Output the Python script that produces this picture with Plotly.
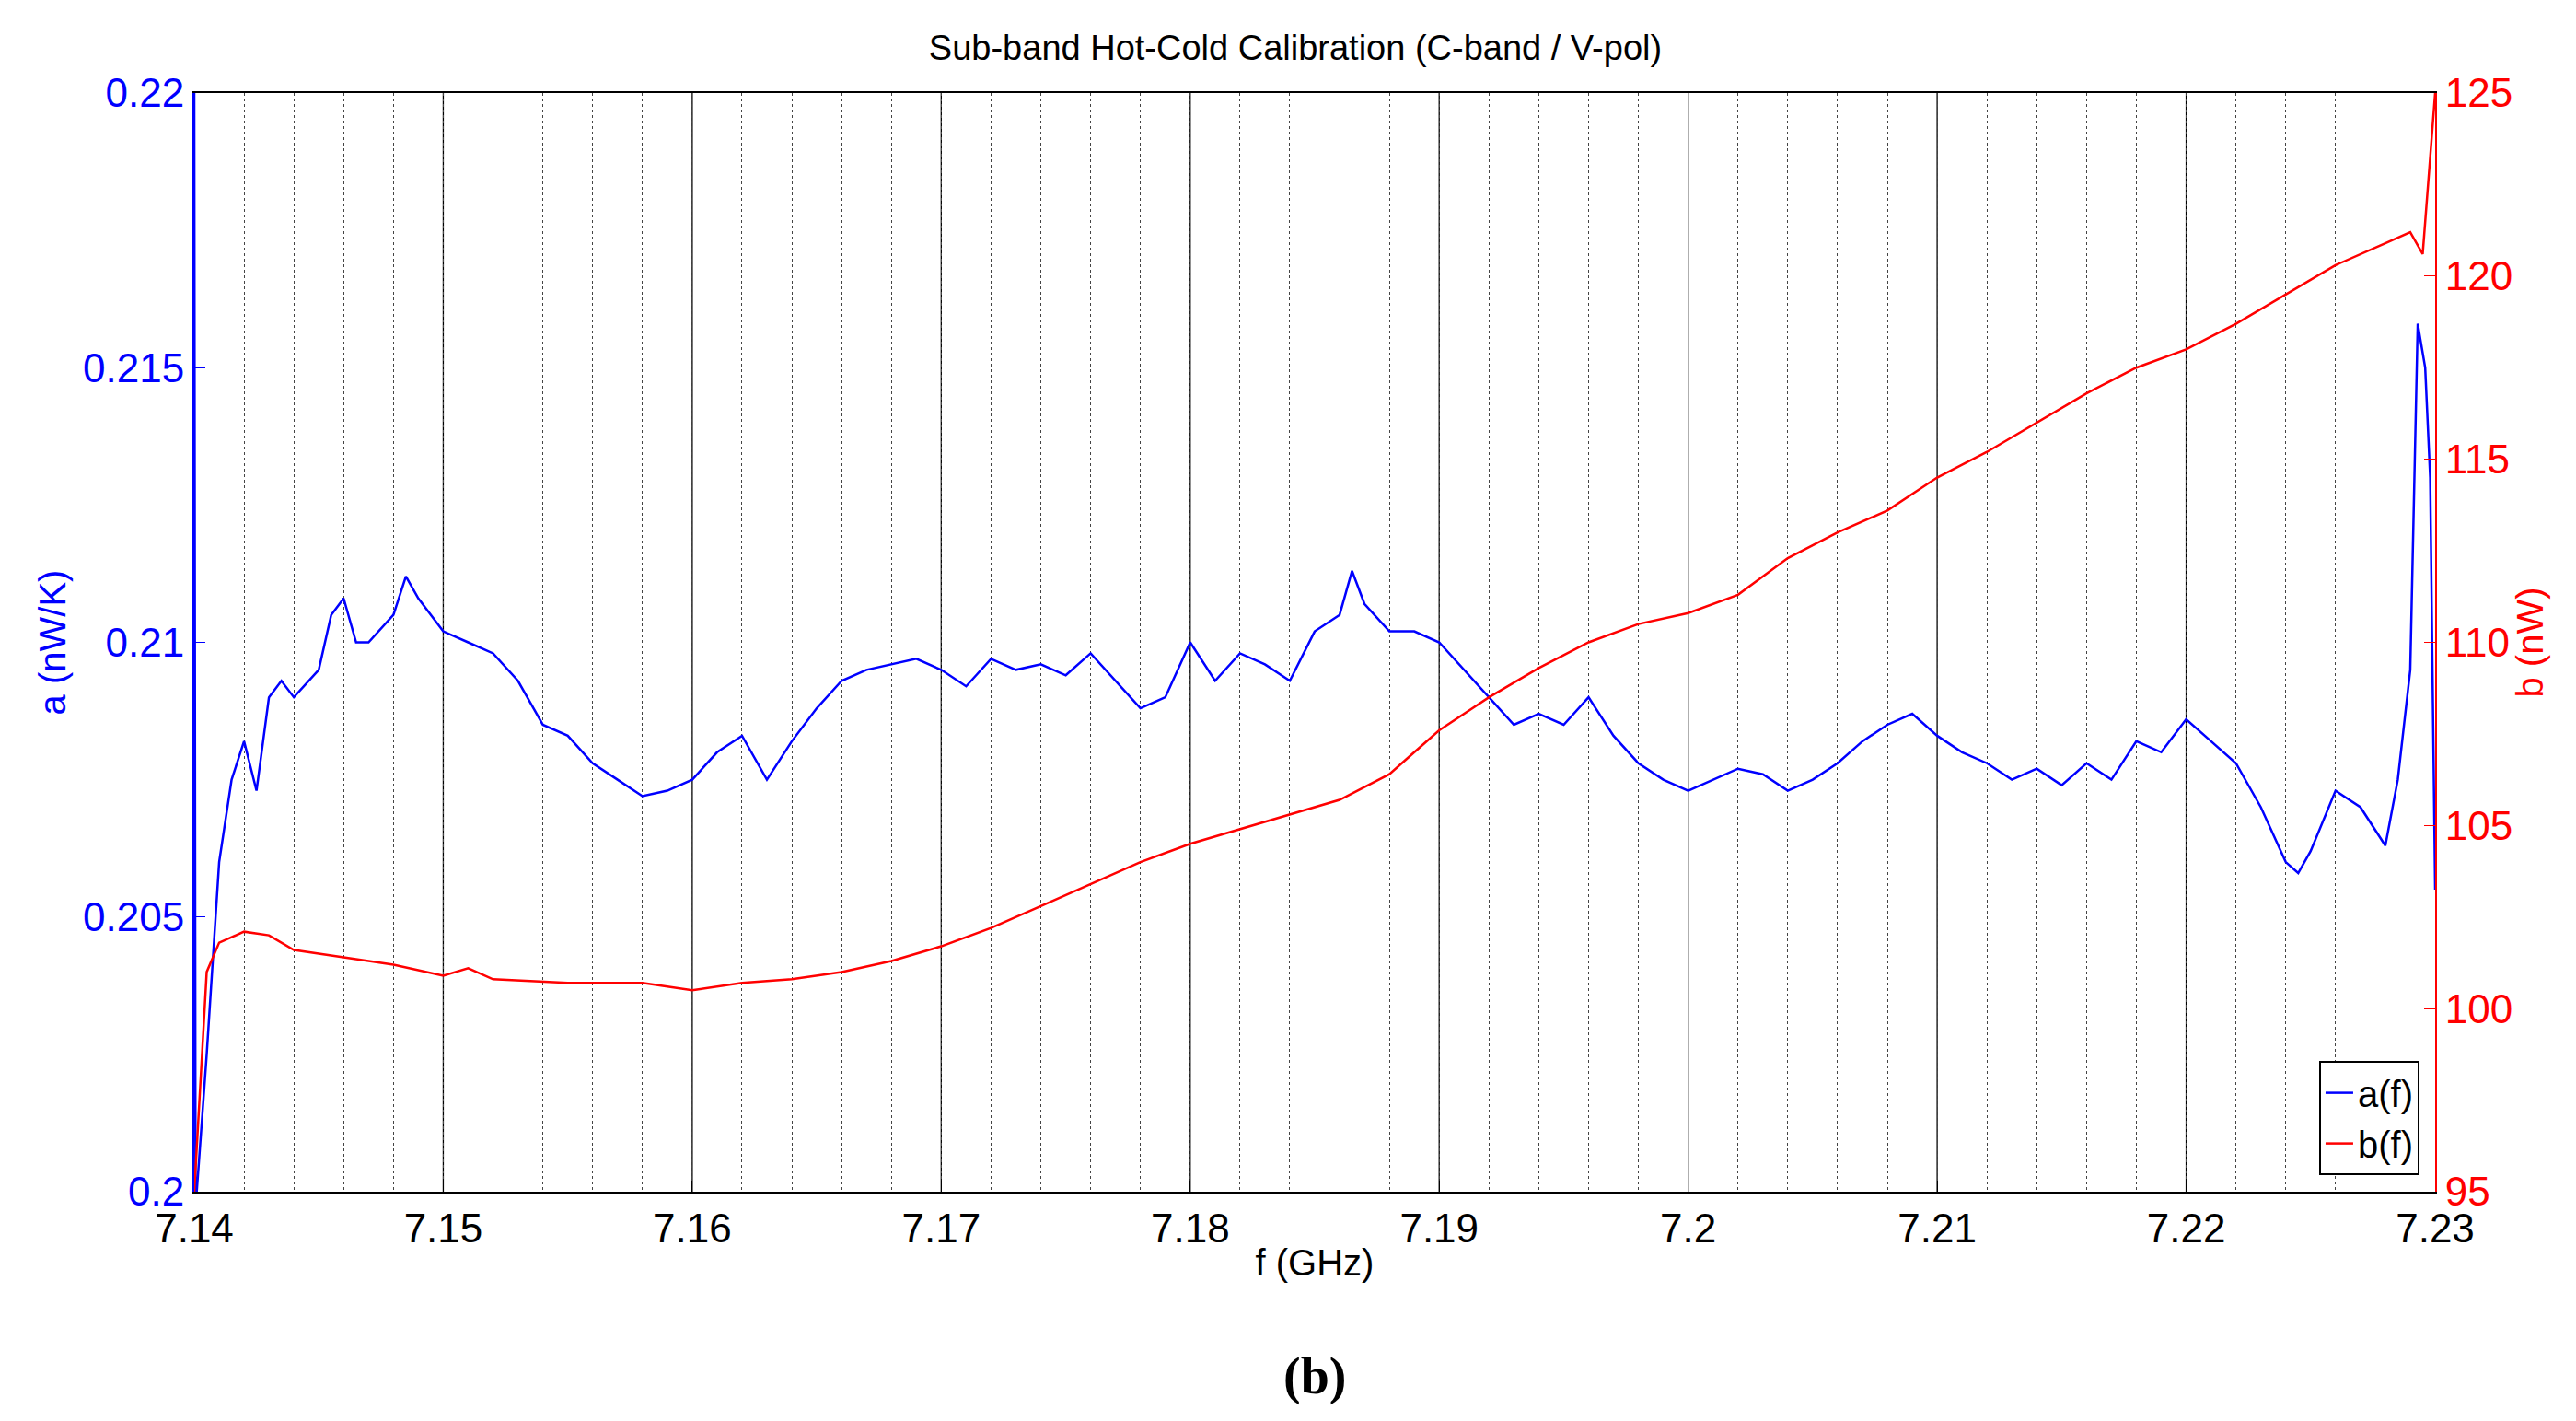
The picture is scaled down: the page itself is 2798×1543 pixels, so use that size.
import plotly.graph_objects as go

# a(f) in nW/K
f_a = [7.1400, 7.14005, 7.1401, 7.1405, 7.141, 7.1415, 7.142, 7.1425, 7.143, 7.1435, 7.144, 7.145,
       7.1455, 7.146, 7.1465, 7.147, 7.148, 7.1485, 7.149, 7.150, 7.151, 7.152, 7.153, 7.154,
       7.155, 7.156, 7.157, 7.158, 7.159, 7.160, 7.161, 7.162, 7.163, 7.164, 7.165, 7.166,
       7.167, 7.168, 7.169, 7.170, 7.171, 7.172, 7.173, 7.174, 7.175, 7.176, 7.177, 7.178,
       7.179, 7.180, 7.181, 7.182, 7.183, 7.184, 7.185, 7.186, 7.1865, 7.187, 7.188, 7.189,
       7.190, 7.191, 7.192, 7.193, 7.194, 7.195, 7.196, 7.197, 7.198, 7.199, 7.200, 7.201,
       7.202, 7.203, 7.204, 7.205, 7.206, 7.207, 7.208, 7.209, 7.210, 7.211, 7.212, 7.213,
       7.214, 7.215, 7.216, 7.217, 7.218, 7.219, 7.220, 7.221, 7.222, 7.223, 7.224, 7.2245,
       7.225, 7.226, 7.227, 7.228, 7.2285, 7.229, 7.2293, 7.2296, 7.2298, 7.2300]
a_vals = [0.2200, 0.2000, 0.2000, 0.2025, 0.2060, 0.2075, 0.2082, 0.2073, 0.2090, 0.2093, 0.2090, 0.2095,
          0.2105, 0.2108, 0.2100, 0.2100, 0.2105, 0.2112, 0.2108, 0.2102, 0.2100, 0.2098, 0.2093, 0.2085,
          0.2083, 0.2078, 0.2075, 0.2072, 0.2073, 0.2075, 0.2080, 0.2083, 0.2075, 0.2082, 0.2088, 0.2093,
          0.2095, 0.2096, 0.2097, 0.2095, 0.2092, 0.2097, 0.2095, 0.2096, 0.2094, 0.2098, 0.2093, 0.2088,
          0.2090, 0.2100, 0.2093, 0.2098, 0.2096, 0.2093, 0.2102, 0.2105, 0.2113, 0.2107, 0.2102, 0.2102,
          0.2100, 0.2095, 0.2090, 0.2085, 0.2087, 0.2085, 0.2090, 0.2083, 0.2078, 0.2075, 0.2073, 0.2075,
          0.2077, 0.2076, 0.2073, 0.2075, 0.2078, 0.2082, 0.2085, 0.2087, 0.2083, 0.2080, 0.2078, 0.2075,
          0.2077, 0.2074, 0.2078, 0.2075, 0.2082, 0.2080, 0.2086, 0.2082, 0.2078, 0.2070, 0.2060, 0.2058,
          0.2062, 0.2073, 0.2070, 0.2063, 0.2075, 0.2095, 0.2158, 0.2150, 0.2130, 0.2055]

# b(f) in nW
f_b = [7.1400, 7.1405, 7.141, 7.142, 7.143, 7.144, 7.146, 7.148, 7.150, 7.151, 7.152, 7.155,
       7.158, 7.160, 7.162, 7.164, 7.166, 7.168, 7.170, 7.172, 7.174, 7.176, 7.178, 7.180,
       7.182, 7.184, 7.186, 7.188, 7.190, 7.192, 7.194, 7.196, 7.198, 7.200, 7.202, 7.204,
       7.206, 7.208, 7.210, 7.212, 7.214, 7.216, 7.218, 7.220, 7.222, 7.224, 7.226, 7.228,
       7.229, 7.2295, 7.2300]
b_vals = [95.0, 101.0, 101.8, 102.1, 102.0, 101.6, 101.4, 101.2, 100.9, 101.1, 100.8, 100.7,
          100.7, 100.5, 100.7, 100.8, 101.0, 101.3, 101.7, 102.2, 102.8, 103.4, 104.0, 104.5,
          104.9, 105.3, 105.7, 106.4, 107.6, 108.5, 109.3, 110.0, 110.5, 110.8, 111.3, 112.3,
          113.0, 113.6, 114.5, 115.2, 116.0, 116.8, 117.5, 118.0, 118.7, 119.5, 120.3, 120.9,
          121.2, 120.6, 125.0]

x_ticks = [7.14, 7.15, 7.16, 7.17, 7.18, 7.19, 7.2, 7.21, 7.22, 7.23]
x_labels = ["7.14", "7.15", "7.16", "7.17", "7.18", "7.19", "7.2", "7.21", "7.22", "7.23"]
a_ticks = [0.2, 0.205, 0.21, 0.215, 0.22]
a_labels = ["0.2", "0.205", "0.21", "0.215", "0.22"]
b_ticks = [95, 100, 105, 110, 115, 120, 125]

FONT = "Liberation Sans"

fig = go.Figure()
fig.add_trace(go.Scatter(x=f_a, y=a_vals, mode="lines", name="a(f)",
                         line=dict(color="#0000ff", width=2.5)))
fig.add_trace(go.Scatter(x=f_b, y=b_vals, mode="lines", name="b(f)", yaxis="y2",
                         line=dict(color="#ff0000", width=2.5)))

# solid major grid lines, dotted minor ones
for xv in x_ticks[1:-1]:
    fig.add_vline(x=xv, line=dict(color="black", width=1.3), layer="below")

fig.update_layout(
    width=2798, height=1543,
    paper_bgcolor="white", plot_bgcolor="white",
    margin=dict(l=203, r=161, t=93, b=257),
    font=dict(family=FONT, size=44, color="black"),
    title=dict(text="Sub-band Hot-Cold Calibration (C-band / V-pol)", x=0.5, xanchor="center",
               y=0.972, yanchor="middle", font=dict(size=38)),
    xaxis=dict(range=[7.14, 7.23], tickvals=x_ticks, ticktext=x_labels,
               showgrid=False, ticks="inside", ticklen=12, tickcolor="black",
               showline=True, linecolor="black", linewidth=2, mirror=True, zeroline=False,
               minor=dict(dtick=0.002, tick0=7.14, showgrid=True, griddash="dot",
                          gridcolor="#444", gridwidth=1.2),
               title=dict(text="f (GHz)", standoff=0, font=dict(size=40))),
    yaxis=dict(range=[0.2, 0.22], tickvals=a_ticks, ticktext=a_labels,
               color="#0000ff", showgrid=False, ticks="inside", ticklen=12, zeroline=False,
               showline=True, linecolor="#0000ff", linewidth=2,
               title=dict(text="a (nW/K)", standoff=6, font=dict(size=40, color="#0000ff"))),
    yaxis2=dict(range=[95, 125], tickvals=b_ticks, overlaying="y", side="right",
                color="#ff0000", showgrid=False, ticks="inside", ticklen=12, zeroline=False,
                showline=True, linecolor="#ff0000", linewidth=2,
                title=dict(text="b (nW)", standoff=6, font=dict(size=40, color="#ff0000"))),
    legend=dict(x=0.993, y=0.015, xanchor="right", yanchor="bottom",
                bgcolor="white", bordercolor="black", borderwidth=2,
                font=dict(size=40), tracegroupgap=0),
    showlegend=True,
)

fig.add_annotation(text="<b>(b)</b>", xref="paper", yref="paper", x=0.5, y=-0.168,
                   yanchor="middle", showarrow=False,
                   font=dict(family="Liberation Serif", size=56, color="black"))

fig.write_html("out.html")
